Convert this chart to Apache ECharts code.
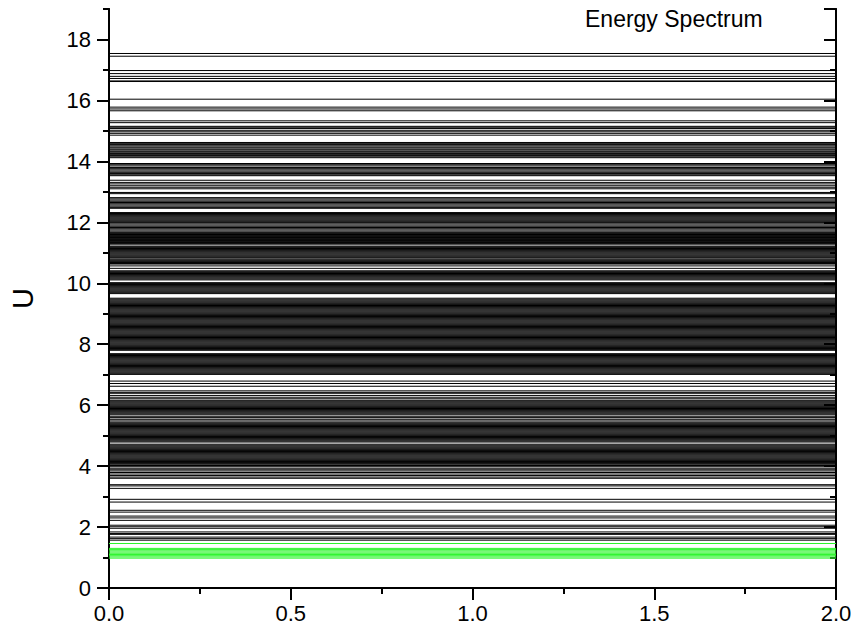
<!DOCTYPE html>
<html>
<head>
<meta charset="utf-8">
<script src="https://cdn.jsdelivr.net/npm/echarts@6/dist/echarts.min.js"></script>
<style>
  html, body { margin: 0; padding: 0; background: #fff; }
  #chart { width: 855px; height: 630px; }
</style>
</head>
<body>
<div id="chart"></div>
<script>
// energy levels, top to bottom
const levelsTop = [
  17.54, 17.45, 16.98, 16.88, 16.79, 16.72, 16.64, 16.62, 16.04, 15.78, 15.72, 15.66,
  15.33, 15.27, 15.15, 15.12, 15.08, 15.02, 14.97, 14.92, 14.86
];
const levelsUpper = [
  14.62, 14.58, 14.55, 14.51, 14.47, 14.44, 14.40, 14.37, 14.33, 14.30, 14.26, 14.22, 14.19, 14.15, 14.12,
  13.93, 13.89, 13.85, 13.80, 13.76, 13.72, 13.68, 13.64, 13.60, 13.56, 13.53,
  13.38, 13.31, 13.26, 13.20, 13.15, 13.10, 12.98, 12.94,
  12.81, 12.77, 12.73, 12.69, 12.65, 12.61, 12.57, 12.53, 12.49, 12.46
];
const levelsMid = [
  12.32, 12.29, 12.26, 12.23, 12.20, 12.17, 12.14, 12.11, 12.08, 12.05, 12.02, 11.99, 11.95, 11.91,
  11.87, 11.83, 11.79, 11.75, 11.71, 11.67, 11.64, 11.62, 11.60, 11.58, 11.56, 11.54, 11.52, 11.50,
  11.48, 11.46, 11.44, 11.42, 11.40, 11.38, 11.36, 11.34, 11.32, 11.30, 11.26, 11.21, 11.17, 11.14,
  11.11, 11.08, 11.05, 11.02, 10.99, 10.96, 10.93, 10.90, 10.87, 10.84, 10.80, 10.77, 10.74, 10.71,
  10.68, 10.65, 10.63, 10.57, 10.49, 10.41, 10.38, 10.35, 10.32, 10.29, 10.26, 10.23, 10.20, 10.17,
  10.14, 10.11, 10.02, 9.99, 9.96, 9.93, 9.90, 9.87, 9.84, 9.81, 9.78, 9.75, 9.72, 9.69, 9.66,
  9.51, 9.48, 9.45, 9.42, 9.39, 9.36, 9.33, 9.30, 9.27, 9.24, 9.21, 9.18, 9.15, 9.12, 9.09, 9.06,
  9.03, 9.00, 8.97, 8.94, 8.91, 8.88, 8.85, 8.82, 8.79, 8.76, 8.73, 8.70, 8.67, 8.64, 8.61, 8.58,
  8.55, 8.52, 8.49, 8.46, 8.43, 8.40, 8.37, 8.34, 8.31, 8.28, 8.25, 8.22, 8.19, 8.16, 8.13, 8.10,
  8.07, 8.04, 8.01, 7.98, 7.95, 7.92, 7.89, 7.86, 7.83, 7.80,
  7.69, 7.66, 7.63, 7.60, 7.57, 7.54, 7.51, 7.48, 7.45, 7.42, 7.39, 7.36, 7.33, 7.30, 7.27, 7.24,
  7.21, 7.18, 7.15, 7.12, 7.09, 7.06, 7.03, 7.01
];
const levelsLower = [
  6.79, 6.71, 6.62, 6.47, 6.42, 6.39, 6.32, 6.26, 6.21, 6.16, 6.13, 6.10, 6.07, 6.04, 6.01, 5.98,
  5.95, 5.92, 5.89, 5.86, 5.83, 5.80, 5.77, 5.74, 5.71, 5.68, 5.62, 5.59, 5.54, 5.51, 5.45, 5.42,
  5.39, 5.36, 5.33, 5.30, 5.27, 5.24, 5.21, 5.18, 5.15, 5.12, 5.09, 5.06, 5.03, 5.00, 4.97, 4.94,
  4.91, 4.88, 4.85, 4.82, 4.79, 4.72, 4.69, 4.66, 4.63, 4.60, 4.57, 4.54, 4.51, 4.48, 4.45, 4.42,
  4.39, 4.36, 4.33, 4.30, 4.27, 4.24, 4.21, 4.18, 4.15, 4.12, 4.09, 4.06, 4.02,
  3.98, 3.93, 3.88, 3.84, 3.79, 3.74, 3.69, 3.64, 3.60,
  3.39, 3.35, 3.27, 2.91, 2.82, 2.55, 2.49, 2.36, 2.30, 2.22, 2.06, 2.01, 1.96,
  1.84, 1.79, 1.76, 1.67, 1.62, 1.57
];
const levelsGround = [1.46, 1.30, 1.26, 1.22, 1.18, 1.14, 1.10, 1.06, 1.02, 0.98];

const xTicks = ['0.0', '0.5', '1.0', '1.5', '2.0'];
const xRange = [0, 2];

const blackLevels = [].concat(levelsTop, levelsUpper, levelsMid, levelsLower);

const chart = echarts.init(document.getElementById('chart'), null, { renderer: 'svg' });

const levelSeries = (levels, color, width) => ({
  type: 'custom',
  silent: true,
  xAxisIndex: 0,
  yAxisIndex: 0,
  clip: true,
  encode: { x: 0, y: 1 },
  data: levels.map(v => [xRange[0], v]),
  renderItem: (params, api) => {
    const e = api.value(1);
    const p0 = api.coord([xRange[0], e]);
    const p1 = api.coord([xRange[1], e]);
    return {
      type: 'line',
      shape: { x1: p0[0], y1: p0[1], x2: p1[0], y2: p1[1] },
      style: { stroke: color, lineWidth: width }
    };
  }
});

const axisLineStyle = { show: true, lineStyle: { color: '#000', width: 2 } };
const font = 'Liberation Sans, Arial, sans-serif';

chart.setOption({
  animation: false,
  backgroundColor: '#fff',
  grid: { left: 106, right: 19, top: 9, bottom: 42, containLabel: false },
  graphic: [{
    type: 'text',
    left: 585,
    top: 7,
    style: { text: 'Energy Spectrum', fontSize: 23, fontFamily: font, fill: '#000' }
  }],
  xAxis: [
    {
      type: 'value', position: 'bottom', min: 0, max: 2, interval: 0.5,
      axisLine: axisLineStyle,
      axisTick: { show: true, inside: false, length: 12, lineStyle: { width: 2, color: '#000' } },
      minorTick: { show: true, splitNumber: 2, length: 6, lineStyle: { width: 2, color: '#000' } },
      axisLabel: {
        margin: 14, fontSize: 22, fontFamily: font, color: '#000',
        formatter: v => xTicks[Math.round(v / 0.5)]
      },
      splitLine: { show: false }
    },
    {
      type: 'value', position: 'top', min: 0, max: 2, interval: 0.5,
      axisLine: axisLineStyle,
      axisTick: { show: true, inside: true, length: 10, lineStyle: { width: 2, color: '#000' } },
      minorTick: { show: true, splitNumber: 2, length: 6, lineStyle: { width: 2, color: '#000' } },
      axisLabel: { show: false },
      splitLine: { show: false }
    }
  ],
  yAxis: [
    {
      type: 'value', position: 'left', min: 0, max: 19, interval: 2,
      name: 'U', nameLocation: 'middle', nameGap: 72,
      nameTextStyle: { fontSize: 29, fontFamily: font, color: '#000' },
      axisLine: axisLineStyle,
      axisTick: { show: true, inside: false, length: 12, lineStyle: { width: 2, color: '#000' } },
      axisLabel: { margin: 18, fontSize: 22, fontFamily: font, color: '#000', showMaxLabel: false },
      splitLine: { show: false }
    },
    {
      type: 'value', position: 'left', min: 0, max: 19, interval: 1,
      axisLine: axisLineStyle,
      axisTick: { show: true, inside: false, length: 6, lineStyle: { width: 2, color: '#000' } },
      axisLabel: { show: false },
      splitLine: { show: false }
    },
    {
      type: 'value', position: 'right', min: 0, max: 19, interval: 2,
      axisLine: axisLineStyle,
      axisTick: { show: true, inside: true, length: 12, lineStyle: { width: 2, color: '#000' } },
      axisLabel: { show: false },
      splitLine: { show: false }
    },
    {
      type: 'value', position: 'right', min: 0, max: 19, interval: 1,
      axisLine: axisLineStyle,
      axisTick: { show: true, inside: true, length: 6, lineStyle: { width: 2, color: '#000' } },
      axisLabel: { show: false },
      splitLine: { show: false }
    }
  ],
  series: [
    levelSeries(blackLevels, '#000', 1),
    levelSeries(levelsGround, '#2cf52c', 1)
  ]
});
</script>
</body>
</html>
